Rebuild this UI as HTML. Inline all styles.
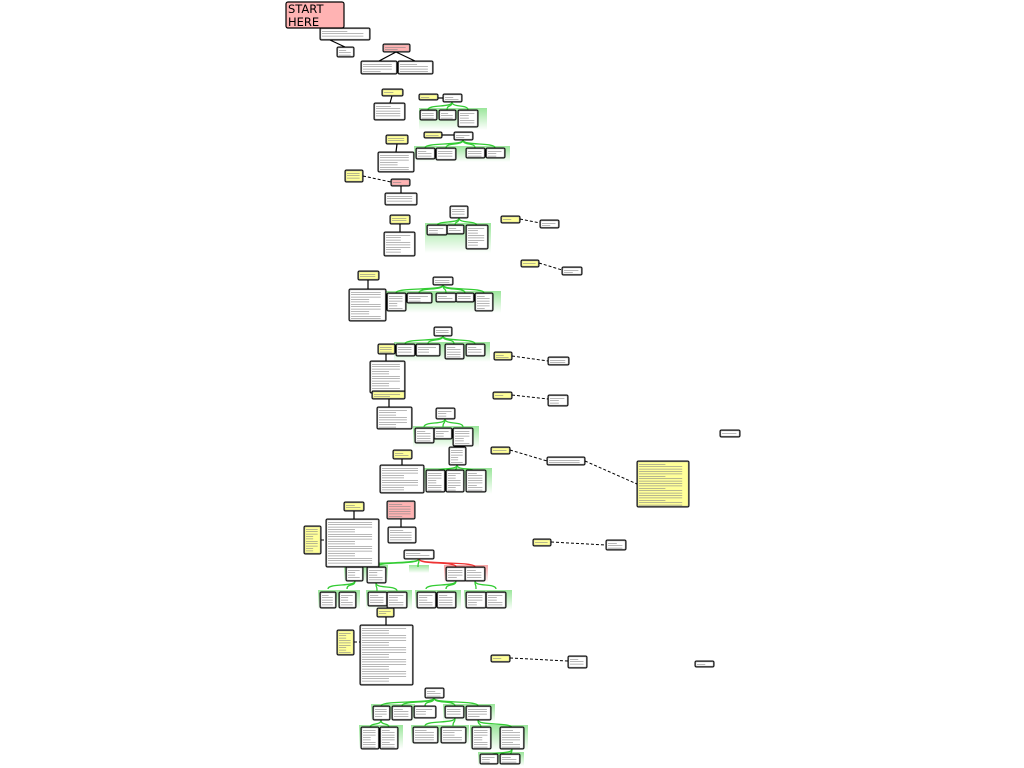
<!DOCTYPE html>
<html><head><meta charset="utf-8"><style>
html,body{margin:0;padding:0;background:#fff;width:1024px;height:768px;overflow:hidden}
svg{display:block}
</style></head><body>
<svg id="s" width="1024" height="768" xmlns="http://www.w3.org/2000/svg" font-family="Liberation Sans, sans-serif">
<defs>
<linearGradient id="gg" x1="0" y1="0" x2="0" y2="1"><stop offset="0" stop-color="#3c3" stop-opacity="0.9"/><stop offset="1" stop-color="#3c3" stop-opacity="0"/></linearGradient>
<linearGradient id="rg" x1="0" y1="0" x2="0" y2="1"><stop offset="0" stop-color="#e44" stop-opacity="0.9"/><stop offset="1" stop-color="#e44" stop-opacity="0"/></linearGradient>
</defs>
<g id="bg"></g><g id="ln"></g><g id="nd"></g>
<rect x="286" y="2" width="58" height="26" rx="2" fill="#ffb3b3" stroke="#000" stroke-width="1.2"/>
<text x="288" y="13" font-size="11.5" fill="#000" font-family="DejaVu Sans, sans-serif">START</text>
<text x="288" y="26" font-size="11.5" fill="#000" font-family="DejaVu Sans, sans-serif">HERE</text>
</svg>
<script>
var NS="http://www.w3.org/2000/svg";
function el(p,t,a){var e=document.createElementNS(NS,t);for(var k in a)e.setAttribute(k,a[k]);document.getElementById(p).appendChild(e);return e;}
var C={w:"#fff",y:"#ffff99",p:"#ffb3b3"};
var N=[
["w",320,28,50,12],["w",337,47,17,10],["p",383,44,27,8],["w",361,61,36,13],["w",398,61,35,13],
["y",382,89,21,7],["w",374,103,31,17],
["y",419,94,19,6],["w",443,94,19,8],["w",420,110,17,10],["w",439,110,17,10],["w",458,110,20,17],
["y",386,135,22,9],["w",378,152,36,20],
["y",424,132,18,6],["w",454,132,19,8],["w",416,148,19,11],["w",436,148,20,12],["w",466,148,19,10],["w",486,148,19,10],
["y",345,170,18,12],["p",391,179,19,7],["w",385,193,32,12],
["w",450,206,18,12],["y",390,215,20,9],["w",384,232,31,24],["w",427,225,20,10],["w",447,225,17,9],["w",466,225,22,24],
["y",501,216,19,7],["w",540,220,19,8],["y",521,260,18,7],["w",562,267,20,8],
["y",358,271,21,9],["w",433,277,20,8],["w",349,289,37,32],["w",387,293,19,18],["w",407,293,25,10],["w",436,293,20,9],["w",456,293,18,9],["w",475,293,18,18],
["w",434,327,18,9],["y",378,344,17,10],["w",396,344,19,12],["w",416,344,24,12],["w",445,344,19,15],["w",466,344,19,12],["w",370,361,35,32],
["y",494,352,18,8],["w",548,357,21,8],["y",493,392,19,7],["w",548,395,20,11],
["y",372,391,33,8],["w",377,407,35,22],
["w",436,408,19,11],["w",415,428,19,15],["w",434,428,18,11],["w",453,428,20,18],
["w",720,430,20,7],
["y",491,447,19,7],["w",547,457,38,8],["y",637,461,52,46],
["y",393,450,19,9],["w",380,465,44,28],["w",449,447,17,18],["w",426,470,19,22],["w",446,470,18,22],["w",466,470,20,22],
["y",344,502,20,9],["p",387,501,28,18],["w",388,527,28,16],["w",326,519,53,48],["y",304,526,17,28],
["y",533,539,18,7],["w",606,540,20,10],
["w",404,550,30,9],["w",346,567,17,14],["w",367,567,19,16],["w",446,567,20,14],["w",465,567,20,14],
["w",320,592,16,16],["w",339,592,17,16],["w",368,592,19,14],["w",387,592,20,16],["w",417,592,19,16],["w",437,592,19,16],["w",466,592,20,16],["w",486,592,20,16],
["y",377,608,17,9],["w",360,625,53,60],["y",337,630,17,25],
["y",491,655,19,7],["w",568,656,19,12],["w",695,661,19,6],
["w",425,688,19,10],["w",373,706,17,14],["w",392,706,20,14],["w",414,706,22,12],["w",445,706,19,12],["w",466,706,25,14],
["w",361,727,18,22],["w",380,727,18,22],["w",413,727,25,16],["w",441,727,25,16],["w",472,727,19,22],["w",500,727,24,22],
["w",480,754,18,10],["w",500,754,20,10]
];
var G=[[419,108,68,22,"gg"],[414,146,96,16,"gg"],[425,223,66,30,"gg"],[386,291,115,22,"gg"],[394,342,96,20,"gg"],[413,426,66,22,"gg"],[424,468,68,26,"gg"],
[344,565,44,18,"gg"],[409,565,20,8,"gg"],[444,565,44,18,"rg"],[318,590,42,20,"gg"],[366,590,46,20,"gg"],[415,590,46,20,"gg"],[464,590,48,20,"gg"],
[371,704,44,18,"gg"],[443,704,52,18,"gg"],[359,725,44,24,"gg"],[411,725,58,20,"gg"],[470,725,58,26,"gg"],[478,752,46,14,"gg"]];
G.forEach(function(g){el("bg","rect",{x:g[0],y:g[1],width:g[2],height:g[3],fill:"url(#"+g[4]+")",opacity:0.55});});
var L=[[330,40,345,47],[396,52,379,61],[396,52,415,61],[392,96,390,103],[397,144,396,152],[401,186,401,193],[400,224,400,232],[368,280,368,289],[386,354,386,361],[389,399,389,407],[402,459,402,465],[354,511,354,519],[401,519,401,527],[386,617,386,625],[438,98,443,98],[442,135,454,135]];
L.forEach(function(l){el("ln","line",{x1:l[0],y1:l[1],x2:l[2],y2:l[3],stroke:"#000","stroke-width":1.2});});
var Gc=[[452,102,[428,447,468]],[463,140,[425,446,475,495]],[459,218,[437,455,477]],[443,285,[396,419,446,465,484]],[443,336,[405,428,454,475]],[445,419,[424,443,463]],[457,465,[435,455,476]],[419,559,[354,376,418]],[355,581,[328,347]],[376,583,[377,397]],[456,581,[426,446]],[475,581,[476,496]],[434,698,[381,402,425,455,478]],[381,720,[370,389]],[455,718,[425,453]],[478,720,[481,512]],[512,749,[489,510]]];
Gc.forEach(function(c){c[2].forEach(function(x){el("ln","path",{d:"M"+c[0]+","+c[1]+" C"+c[0]+","+(c[1]+6)+" "+x+","+(c[1]+2)+" "+x+","+(c[1]+8),fill:"none",stroke:"#3c3","stroke-width":1.3});});});
el("ln","path",{d:"M419,559 C419,565 456,561 456,567 M419,559 C419,565 475,561 475,567",fill:"none",stroke:"#e33","stroke-width":1.3});
var D=[[363,176,391,182],[520,219,540,223],[539,263,562,270],[512,356,548,361],[512,395,548,399],[510,450,547,461],[585,461,637,484],[551,542,606,545],[510,658,568,661],[321,540,326,540],[354,642,360,642]];
D.forEach(function(l){el("ln","line",{x1:l[0],y1:l[1],x2:l[2],y2:l[3],stroke:"#000","stroke-width":1,"stroke-dasharray":"3,2"});});
N.forEach(function(n){var x=n[1],y=n[2],w=n[3],h=n[4];
el("nd","rect",{x:x,y:y,width:w,height:h,rx:1.5,fill:C[n[0]],stroke:"#000","stroke-width":1});
el("nd","rect",{x:x+0.8,y:y+0.8,width:w-1.6,height:h-1.6,rx:1,fill:"none",stroke:"#888","stroke-width":0.6});
for(var yy=y+3;yy<y+h-2;yy+=2.4){var lw=(w-4)*((Math.round(yy)*7+x)%3==0?0.55:0.9);el("nd","rect",{x:x+2,y:yy,width:lw,height:0.6,fill:"#888"});}
});
</script>
</body></html>
